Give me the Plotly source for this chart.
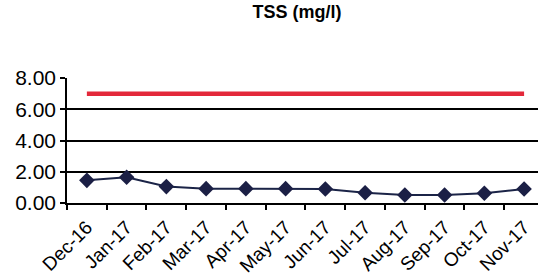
import plotly.graph_objects as go

months = ["Dec-16", "Jan-17", "Feb-17", "Mar-17", "Apr-17", "May-17",
          "Jun-17", "Jul-17", "Aug-17", "Sep-17", "Oct-17", "Nov-17"]
tss = [1.45, 1.65, 1.05, 0.92, 0.92, 0.92, 0.90, 0.66, 0.51, 0.51, 0.62, 0.90]
limit = [7.0] * 12
y_ticks = [0, 2, 4, 6, 8]
y_labels = ["0.00", "2.00", "4.00", "6.00", "8.00"]

fig = go.Figure()
fig.add_trace(go.Scatter(x=months, y=limit, mode="lines",
                         line=dict(color="#e3283a", width=4.5),
                         showlegend=False, hoverinfo="skip"))
fig.add_trace(go.Scatter(x=months, y=tss, mode="lines+markers",
                         line=dict(color="#1b2447", width=2),
                         marker=dict(symbol="diamond", size=12, color="#1b1f45"),
                         showlegend=False))

fig.update_layout(
    width=538, height=275,
    margin=dict(l=67, r=0, t=78, b=72),
    paper_bgcolor="white", plot_bgcolor="white",
    font=dict(family="Liberation Sans, Arial, sans-serif", color="black"),
    title=dict(text="<b>TSS (mg/l)</b>", x=297/538, xanchor="center",
               y=1 - 12/275, yanchor="middle",
               font=dict(size=18, color="black")),
)
fig.update_xaxes(
    type="category", range=[-0.5, 11.35], automargin=False,
    showline=True, linecolor="black", linewidth=1.5,
    ticks="outside", tickson="boundaries", ticklen=5, tickcolor="black", tickwidth=1.5,
    tickangle=-45, tickfont=dict(size=19, color="black"), ticklabelstandoff=4,
    showgrid=False,
)
fig.update_yaxes(
    range=[0, 8], tickvals=y_ticks, ticktext=y_labels, automargin=False,
    showline=True, linecolor="black", linewidth=1.5,
    ticks="outside", ticklen=5, tickcolor="black", tickwidth=1.5,
    showgrid=True, gridcolor="black", gridwidth=1.5,
    zeroline=False,
    tickfont=dict(size=21, color="black"),
)

fig.write_html("out.html", config={"displayModeBar": False},
               post_script="document.body.style.margin='0';document.body.style.overflow='hidden';")
